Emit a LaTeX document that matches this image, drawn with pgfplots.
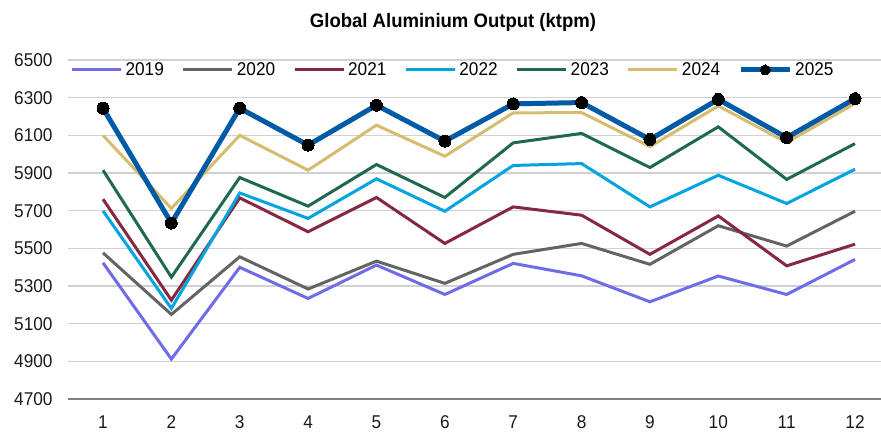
\documentclass[border=0pt]{standalone}
\usepackage{pgfplots}
\pgfplotsset{compat=1.18}
\usepackage{fontspec}
\setmainfont{Liberation Sans}[FakeStretch=0.93]
\newfontfamily\titlefont{Liberation Sans}[FakeStretch=0.95]
\definecolor{c19}{RGB}{112,108,232}
\definecolor{c20}{RGB}{100,100,100}
\definecolor{c21}{RGB}{135,40,65}
\definecolor{c22}{RGB}{0,164,224}
\definecolor{c23}{RGB}{30,105,80}
\definecolor{c24}{RGB}{214,188,110}
\definecolor{c25}{RGB}{0,90,165}
\begin{document}
\begin{tikzpicture}[x=1pt,y=1pt]
\useasboundingbox (0,0) rectangle (881,433);
\node[font=\titlefont\bfseries\fontsize{19.5}{22}\selectfont] at (453,411) {Global Aluminium Output (ktpm)};
\begin{axis}[
  at={(68pt,34pt)}, anchor=south west,
  width=813pt, height=339pt, scale only axis,
  xmin=0.488, xmax=12.38, ymin=4700, ymax=6500,
  xtick={1,...,12}, ytick={4700,4900,...,6500},
  axis line style={draw=none},
  ymajorgrids, grid style={draw=black!18, line width=1.2pt},
  major tick length=0pt,
  /pgf/number format/assume math mode=true,
  /pgf/number format/set thousands separator={},
  tick label style={font=\fontsize{18.5}{20}\selectfont, text=black!90},
  yticklabel style={anchor=east, xshift=-12pt},
  xticklabel style={anchor=center, yshift=-23pt},
  clip=false,
  legend columns=7,
  legend style={at={(0.473,0.9705)}, anchor=center, draw=none, fill=none,
    font=\fontsize{18.5}{20}\selectfont, nodes={inner sep=1pt},
    /tikz/every odd column/.append style={column sep=2pt},
    /tikz/every even column/.append style={column sep=17pt}},
  legend image code/.code={\draw[#1, mark repeat=2, mark phase=2, mark size=5pt] plot coordinates {(0pt,0pt) (24.5pt,0pt) (49pt,0pt)};},
  every axis plot/.append style={line width=3pt, mark=none},
]
\draw[black!50, line width=2.5pt] (axis cs:0.488,4700) -- (axis cs:12.38,4700);
\addplot[c19] coordinates {(1,5423)(2,4912)(3,5399)(4,5234)(5,5411)(6,5255)(7,5420)(8,5354)(9,5216)(10,5353)(11,5255)(12,5441)};
\addlegendentry{2019}
\addplot[c20] coordinates {(1,5476)(2,5149)(3,5455)(4,5284)(5,5432)(6,5314)(7,5468)(8,5526)(9,5415)(10,5620)(11,5512)(12,5697)};
\addlegendentry{2020}
\addplot[c21] coordinates {(1,5761)(2,5225)(3,5768)(4,5588)(5,5770)(6,5526)(7,5720)(8,5676)(9,5468)(10,5672)(11,5407)(12,5522)};
\addlegendentry{2021}
\addplot[c22] coordinates {(1,5699)(2,5181)(3,5794)(4,5659)(5,5869)(6,5697)(7,5940)(8,5950)(9,5720)(10,5888)(11,5738)(12,5920)};
\addlegendentry{2022}
\addplot[c23] coordinates {(1,5915)(2,5347)(3,5876)(4,5724)(5,5945)(6,5770)(7,6060)(8,6110)(9,5929)(10,6145)(11,5866)(12,6056)};
\addlegendentry{2023}
\addplot[c24] coordinates {(1,6100)(2,5712)(3,6100)(4,5915)(5,6154)(6,5989)(7,6219)(8,6221)(9,6040)(10,6256)(11,6062)(12,6269)};
\addlegendentry{2024}
\addplot[c25, line width=5pt, mark=*, mark size=6pt, mark options={fill=black, draw=black, line width=0pt}] coordinates {(1,6244)(2,5634)(3,6244)(4,6048)(5,6260)(6,6069)(7,6267)(8,6274)(9,6078)(10,6291)(11,6088)(12,6295)};
\addlegendentry{2025}
\end{axis}
\end{tikzpicture}
\end{document}
